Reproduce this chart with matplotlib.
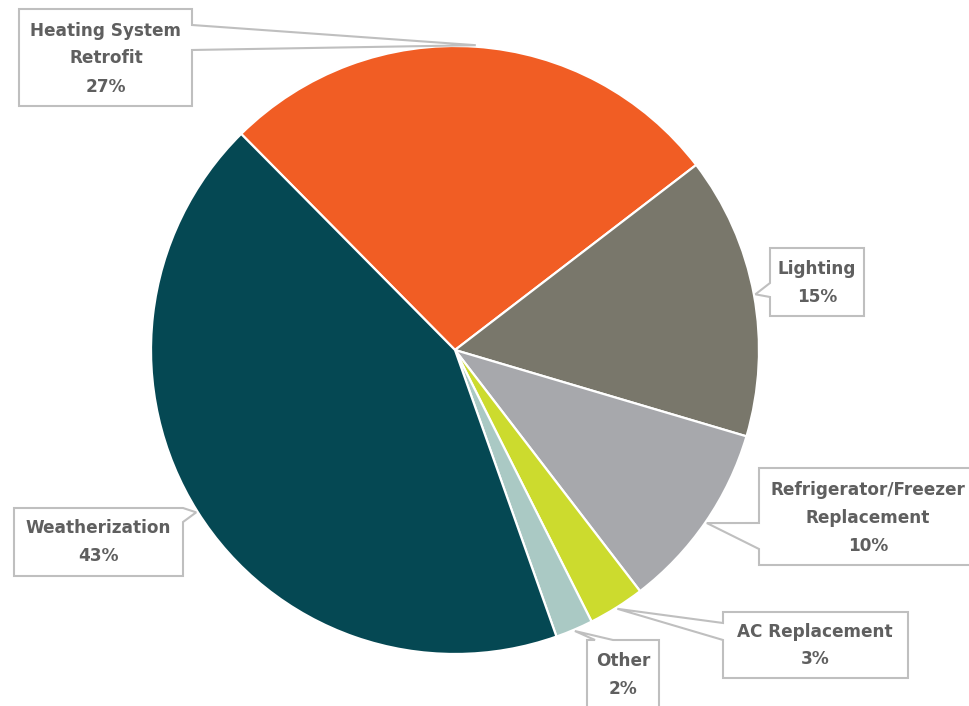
import numpy as np
import matplotlib.pyplot as plt
from matplotlib.patches import Polygon

# Share of program savings by measure type (%)
categories = ['Heating System\nRetrofit', 'Lighting', 'Refrigerator/Freezer\nReplacement',
              'AC Replacement', 'Other', 'Weatherization']
shares = [27, 15, 10, 3, 2, 43]
colors = ['#F15D24', '#79776B', '#A7A8AC', '#CCDB2E', '#AAC9C4', '#054853']

W, H = 969, 706
fig = plt.figure(figsize=(W / 100, H / 100), dpi=100)
ax = fig.add_axes([0, 0, 1, 1])

cx, cy, r = 455, H - 350, 304
wedges, _ = ax.pie(shares, colors=colors, startangle=134.7, counterclock=False,
                   center=(cx, cy), radius=r,
                   wedgeprops=dict(edgecolor='white', linewidth=1.6))
ax.set_xlim(0, W)
ax.set_ylim(0, H)
ax.set_aspect('equal')
ax.axis('off')

# callout boxes in pixel layout (left, top, right, bottom), pointer side and base span
boxes = [
    ((19, 9, 192, 106), 'right', (25, 50), (106, [31, 58, 87])),
    ((770, 248, 864, 316), 'left', (283, 297), (817, [269, 297])),
    ((759, 468, 990, 565), 'left', (523, 549), (868, [490, 518, 546])),
    ((723, 612, 908, 678), 'left', (623, 640), (815, [632, 659])),
    ((587, 640, 659, 730), 'top', (595, 613), (623, [661, 689])),
    ((14, 508, 183, 576), 'right', (508, 522), (98, [528, 556])),
]


def callout(box, side, base, tip):
    l, t, rr, b = box
    if side == 'right':
        pts = [(l, t), (rr, t), (rr, base[0]), tip, (rr, base[1]), (rr, b), (l, b)]
    elif side == 'left':
        pts = [(l, t), (rr, t), (rr, b), (l, b), (l, base[1]), tip, (l, base[0])]
    else:
        pts = [(l, t), (base[0], t), tip, (base[1], t), (rr, t), (rr, b), (l, b)]
    return [(x, H - y) for x, y in pts]


for w, share, name, (box, side, base, (tx, ty)) in zip(wedges, shares, categories, boxes):
    mid = np.deg2rad((w.theta1 + w.theta2) / 2)
    tip_x = cx + r * 1.005 * np.cos(mid)
    tip_y = H - (cy + r * 1.005 * np.sin(mid))
    poly = Polygon(callout(box, side, base, (tip_x, tip_y)), closed=True,
                   facecolor='white', edgecolor='#BFBFBF', linewidth=1.5, zorder=3)
    ax.add_patch(poly)
    lines = name.split('\n') + [f'{share}%']
    for line, y in zip(lines, ty):
        ax.text(tx, H - y, line, ha='center', va='center', fontsize=12.2,
                fontweight='bold', color='#5F5F5F', family='DejaVu Sans', zorder=4)

fig.savefig('out.png', dpi=100)
